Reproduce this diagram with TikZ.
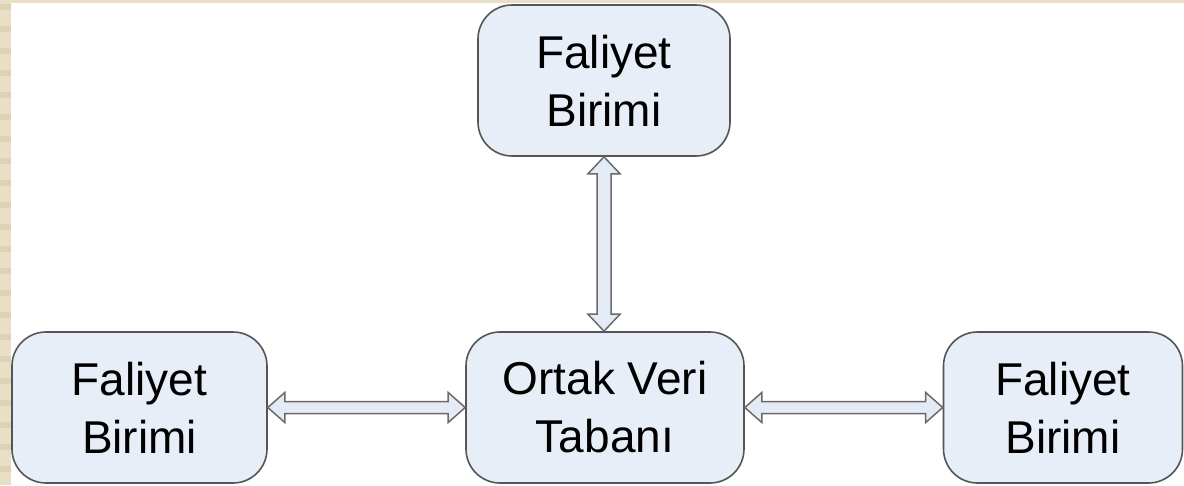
\documentclass[tikz,border=0pt]{standalone}
\usepackage{fontspec}
\setmainfont{Liberation Sans}
\usetikzlibrary{calc}
\definecolor{boxfill}{HTML}{E8EEF8}
\definecolor{boxline}{HTML}{555555}
\definecolor{arrowfill}{HTML}{E4EBF6}
\definecolor{arrowline}{HTML}{6A6A6A}
\definecolor{paperlight}{HTML}{E8DFC6}
\definecolor{paperdark}{HTML}{DDD3B4}
\tikzset{
  unitbox/.style={draw=boxline, line width=1.6pt, fill=boxfill, rounded corners=34pt,
    minimum height=151pt, align=center, font=\fontsize{46}{58}\selectfont, inner sep=0pt},
  linkarrow/.style={fill=arrowfill, draw=arrowline, line width=1.5pt, line join=miter},
}
% hollow two-headed arrows between nodes
\newcommand{\linkh}[2]{%
  \filldraw[linkarrow] let \p1=(#1.east), \p2=(#2.west) in
    (\x1,\y1) -- (\x1+17pt,\y1+15pt) -- (\x1+17pt,\y1+6pt) -- (\x2-17pt,\y1+6pt)
    -- (\x2-17pt,\y1+15pt) -- (\x2,\y1) -- (\x2-17pt,\y1-15pt) -- (\x2-17pt,\y1-6pt)
    -- (\x1+17pt,\y1-6pt) -- (\x1+17pt,\y1-15pt) -- cycle;}
\newcommand{\linkv}[2]{%
  \filldraw[linkarrow] let \p1=(#1.south), \p2=(#2.north) in
    (\x1,\y1) -- (\x1+16pt,\y1-17pt) -- (\x1+7pt,\y1-17pt) -- (\x1+7pt,\y2+17pt)
    -- (\x1+16pt,\y2+17pt) -- (\x1,\y2) -- (\x1-16pt,\y2+17pt) -- (\x1-7pt,\y2+17pt)
    -- (\x1-7pt,\y1-17pt) -- (\x1-16pt,\y1-17pt) -- cycle;}
\begin{document}
\begin{tikzpicture}[x=1pt,y=-1pt]
  \useasboundingbox (0,0) rectangle (1184,485);
  % page background with striped paper margin
  \fill[white] (0,0) rectangle (1184,485);
  \fill[paperlight] (0,0) rectangle (1184,3);
  \fill[paperlight] (0,0) rectangle (11,485);
  \foreach \k in {0,...,21} {
    \fill[paperdark] (0,4+22*\k) rectangle (11,10+22*\k);
  }
  % units
  \node[unitbox, minimum width=252pt] (top) at (604,80.5) {Faliyet\\Birimi};
  \node[unitbox, minimum width=255pt] (left) at (139.5,407.5) {Faliyet\\Birimi};
  \node[unitbox, minimum width=278pt] (db) at (605,407.5) {Ortak Veri\\Tabanı};
  \node[unitbox, minimum width=239pt] (right) at (1063,407.5) {Faliyet\\Birimi};
  % links
  \linkv{top}{db}
  \linkh{left}{db}
  \linkh{db}{right}
\end{tikzpicture}
\end{document}
